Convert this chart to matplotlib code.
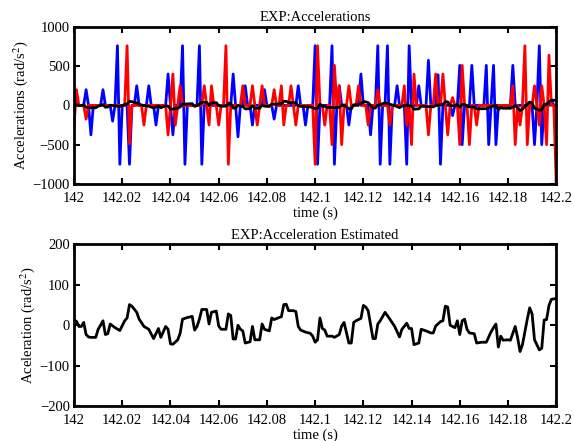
import numpy as np
import matplotlib
matplotlib.use('Agg')
import matplotlib.pyplot as plt
from matplotlib.ticker import FuncFormatter

# sample index (1 ms steps from t = 142 s) -> value, baseline is 0
blue_idx = [5, 7, 12, 16, 18, 19, 23, 26, 31, 34, 39, 41, 45, 46,
            52, 53, 66, 68, 71, 74, 79, 83, 93, 96, 100, 101,
            107, 108, 110, 114, 119, 123, 126, 127, 130, 131, 134, 138, 139, 143, 147, 151, 152,
            157, 160, 161, 165, 171, 172, 174, 175, 182, 191, 193, 194, 198]
blue_val = [200, -375, 200, -200, 760, -750, -750, 250, 250, -250, 400, -375, 760, -750,
            760, -750, 400, -400, 250, -250, 200, -175, 250, -250, 760, -750,
            760, -750, 250, -250, 400, -375, 760, -750, 760, -750, 250, -750, 760, 250, 575, 390, -750,
            -130, 510, -500, 510, 510, -500, 510, -500, 510, -500, 760, -500, 75]

red_idx = [0, 1, 5, 22, 23, 29, 39, 41, 42, 44,
           54, 56, 57, 60, 63, 64, 70, 74, 76, 78, 83, 86, 87, 90, 92, 100, 101,
           104, 107, 108, 110, 111, 114, 118, 122, 126, 131, 137, 138, 140, 141, 147, 150,
           153, 155, 157, 160, 161, 164, 167, 182, 183, 185, 187, 188, 191, 193, 194, 196, 197, 200]
red_val = [-250, 200, -175, 760, -490, -250, -375, 400, -250, 250,
           250, -250, 250, -250, 760, -750, 250, 250, -250, 250, 200, 250, -250, 250, -250, -750, 760,
           -250, -500, 510, 250, -500, 250, 250, -250, 200, -250, 250, -250, -500, 400, -375, 400,
           400, -375, 100, -500, 510, -500, -250, 250, -500, -250, 760, -500, 250, -250, 250, -500, 640, -980]

# estimated acceleration (vertices)
est_idx = [0, 1, 2, 3, 4, 5, 6, 7, 9, 10, 11, 12, 13, 14, 15, 17, 19, 21, 22, 23, 24, 26, 27, 29,
           31, 33, 35, 36, 38, 39, 40, 41, 43, 44, 45, 47, 49, 50, 51, 52, 53, 55, 56, 57, 59, 60,
           61, 63, 64, 65, 66, 67, 68, 69, 70, 71, 73, 74, 75, 77, 78, 79, 81, 82, 83, 85, 86, 87,
           88, 89, 91, 92, 93, 94, 96, 98, 99, 100, 101, 102, 103, 104, 105, 107, 108, 110, 111,
           112, 114, 115, 116, 117, 119, 120, 121, 122, 124, 125, 126, 127, 129, 131, 133, 135,
           136, 138, 139, 140, 141, 143, 144, 146, 148, 149, 150, 152, 153, 154, 155, 156, 157,
           158, 159, 160, 161, 162, 163, 164, 166, 167, 169, 171, 173, 174, 175, 176, 177, 178,
           180, 181, 183, 184, 185, 186, 188, 189, 190, 191, 193, 194, 195, 196, 197, 198, 200]
est_val = [12, 10, -3, -3, 7, -23, -29, -30, -30, -10, 0, 11, -23, -21, 3, -6, -13, 11, 18, 51, 47, 32, 15, -3,
           -10, -33, -8, -30, -3, -10, -46, -47, -36, -20, 15, 19, 22, -12, -3, 15, 39, 39, 3, 32, 35, -2,
           -10, -10, 28, 24, -34, -34, 0, -10, -14, -44, -41, -3, -36, -36, 3, -10, -14, 18, 14, 19, 21, 51,
           52, 36, 36, 34, -3, -12, -17, -20, -27, -42, -36, 18, -8, -12, -27, -27, -30, -23, -2,
           7, -44, -44, 7, 11, 17, 49, 45, 36, -33, -33, 3, 11, 32, 15, -3, -29,
           -10, 5, -8, -8, -48, -44, -10, -14, -19, -19, -2, 9, 11, 47, 45, 0, -3,
           -6, 11, -23, 11, 15, -10, -19, -21, -44, -42, -42, -16, -6, 3, -54, -27, -37,
           -36, -37, -3, -31, -65, -48, 15, 43, 28, -36, -61, -57, 13, 14, 49, 64, 66]

t_start = 142.0
n_samples = 201

t = t_start + np.arange(n_samples) * 0.001
blue = np.zeros(n_samples)
blue[blue_idx] = blue_val
red = np.zeros(n_samples)
red[red_idx] = red_val
t_est = t_start + np.array(est_idx) * 0.001
est = np.array(est_val)

plt.rcParams['font.family'] = 'Liberation Serif'
plt.rcParams['mathtext.fontset'] = 'stix'
plt.rcParams['font.size'] = 10.5


def matlab_fmt(v, pos):
    s = '%g' % round(v, 3)
    return s.replace('-', '\u2212')


fig = plt.figure(figsize=(5.74, 4.41), dpi=100)
ax1 = fig.add_axes([0.129, 0.583, 0.840, 0.356])
ax2 = fig.add_axes([0.129, 0.079, 0.840, 0.367])

ax1.plot(t, blue, color='#0000ff', lw=2)
ax1.plot(t, red, color='#ff0000', lw=2)
ax1.plot(t_est, est, color='black', lw=2)
ax1.set_ylim(-1000, 1000)
ax1.set_yticks([-1000, -500, 0, 500, 1000])
ax1.set_title('EXP:Accelerations', fontsize=10.5, pad=4)
ax1.set_ylabel('Accelerations (rad/s$^2$)', labelpad=2)

ax2.plot(t_est, est, color='black', lw=2)
ax2.set_ylim(-200, 200)
ax2.set_yticks([-200, -100, 0, 100, 200])
ax2.set_title('EXP:Acceleration Estimated', fontsize=10.5, pad=4)
ax2.set_ylabel('Aceleration (rad/s$^2$)', labelpad=2)

for ax in (ax1, ax2):
    ax.set_xlim(142, 142.2)
    ax.set_xticks(np.round(np.arange(142, 142.2001, 0.02), 2))
    ax.xaxis.set_major_formatter(FuncFormatter(matlab_fmt))
    ax.yaxis.set_major_formatter(FuncFormatter(matlab_fmt))
    ax.tick_params(direction='in', top=True, right=True, length=4, width=1.5)
    ax.tick_params(axis='x', pad=6)
    ax.tick_params(axis='y', pad=3)
    ax.set_xlabel('time (s)', labelpad=1)
    for sp in ax.spines.values():
        sp.set_linewidth(2)

fig.savefig('out.png', dpi=100)
